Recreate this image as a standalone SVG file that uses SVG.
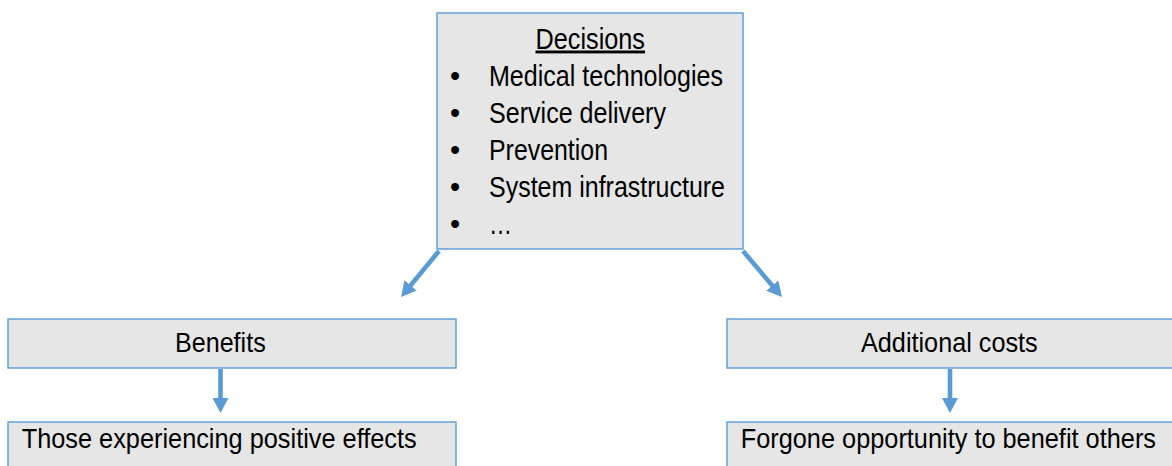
<svg xmlns="http://www.w3.org/2000/svg" width="1172" height="466" viewBox="0 0 1172 466">
<style>
.box{fill:#e6e6e6;stroke:#5b9bd5;stroke-width:1.4}
.t{font-family:"Liberation Sans",Arial,sans-serif;fill:#000}
.top{font-size:29px}
.low{font-size:28px}
.conn{stroke:#5b9bd5;stroke-width:4.6;fill:none}
</style>
<defs>
<marker id="ah" viewBox="0 0 15 16" refX="5" refY="8" markerWidth="15" markerHeight="16" markerUnits="userSpaceOnUse" orient="auto">
<path d="M0,0 L15,8 L0,16 z" fill="#5b9bd5"/>
</marker>
</defs>
<rect width="1172" height="466" fill="#ffffff"/>
<g id="decisions">
<rect class="box" x="437" y="13" width="306" height="236"/>
<text class="t top" x="535.5" y="48.5" textLength="109.5" lengthAdjust="spacingAndGlyphs" text-decoration="underline">Decisions</text>
<text class="t top" x="450" y="86">•</text>
<text class="t top" x="489" y="86" textLength="234" lengthAdjust="spacingAndGlyphs">Medical technologies</text>
<text class="t top" x="450" y="123">•</text>
<text class="t top" x="489" y="123" textLength="177" lengthAdjust="spacingAndGlyphs">Service delivery</text>
<text class="t top" x="450" y="160">•</text>
<text class="t top" x="489" y="160" textLength="119" lengthAdjust="spacingAndGlyphs">Prevention</text>
<text class="t top" x="450" y="196.8">•</text>
<text class="t top" x="489" y="196.8" textLength="236" lengthAdjust="spacingAndGlyphs">System infrastructure</text>
<text class="t top" x="450" y="233.5">•</text>
<text class="t top" x="489" y="233.5" textLength="23" lengthAdjust="spacingAndGlyphs">…</text>
</g>
<g id="benefits">
<rect class="box" x="8" y="319" width="448" height="49"/>
<text class="t low" x="175" y="351.7" textLength="90.7" lengthAdjust="spacingAndGlyphs">Benefits</text>
</g>
<g id="positive-effects">
<rect class="box" x="8" y="422" width="448" height="60"/>
<text class="t low" x="21.7" y="448.3" textLength="395" lengthAdjust="spacingAndGlyphs">Those experiencing positive effects</text>
</g>
<g id="costs">
<rect class="box" x="727" y="319" width="460" height="49"/>
<text class="t low" x="861" y="351.7" textLength="176.7" lengthAdjust="spacingAndGlyphs">Additional costs</text>
</g>
<g id="forgone">
<rect class="box" x="727" y="422" width="460" height="60"/>
<text class="t low" x="740.7" y="448.3" textLength="415.3" lengthAdjust="spacingAndGlyphs">Forgone opportunity to benefit others</text>
</g>
<g id="connectors">
<line class="conn" x1="439" y1="251" x2="407.4" y2="289.3" marker-end="url(#ah)"/>
<line class="conn" x1="743" y1="251" x2="775.5" y2="289.4" marker-end="url(#ah)"/>
<line class="conn" x1="220.5" y1="369" x2="220.5" y2="403" marker-end="url(#ah)"/>
<line class="conn" x1="950" y1="369" x2="950" y2="403" marker-end="url(#ah)"/>
</g>
</svg>
